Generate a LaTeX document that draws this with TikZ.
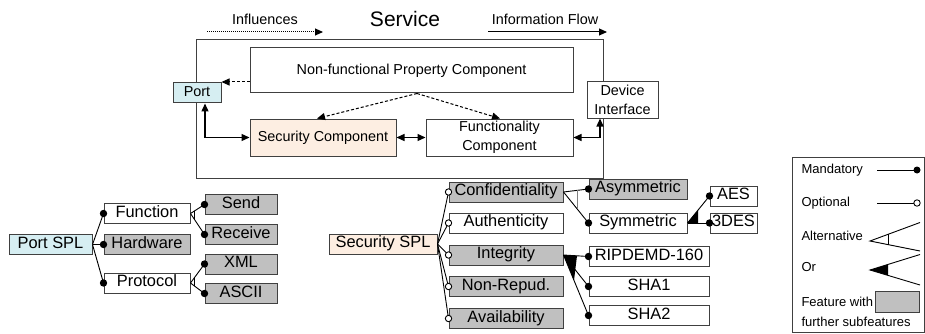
\documentclass[tikz,border=0pt]{standalone}
\usepackage{fontspec}
\setmainfont{Liberation Sans}
\usetikzlibrary{arrows.meta,calc}
\definecolor{featgray}{HTML}{C0C0C0}
\definecolor{portblue}{HTML}{D6EEF2}
\definecolor{secpeach}{HTML}{FDEEE2}
\definecolor{framegray}{HTML}{404040}
\begin{document}
\begin{tikzpicture}[x=1pt,y=-1pt,
  box/.style={draw=framegray, line width=1pt, inner sep=1pt, align=center,
    text height=0.92em, text depth=0.2em},
  topfont/.style={font=\fontsize{14.4}{19}\selectfont},
  treefont/.style={font=\fontsize{16.4}{19}\selectfont},
  legfont/.style={font=\fontsize{13}{16}\selectfont},
  comp/.style={box, topfont},
  feat/.style={box, treefont, minimum height=20pt},
  subfeat/.style={feat, fill=featgray},
  tip/.style={-{Triangle[length=8pt,width=7pt]}},
  bitip/.style={{Triangle[length=8pt,width=7pt]}-{Triangle[length=8pt,width=7pt]}},
  infl/.style={dash pattern=on 3pt off 2pt, line width=1pt},
  conn/.style={line width=0.9pt},
  mand/.style={fill=black},
  opt/.style={draw, fill=white, line width=0.9pt}]
\useasboundingbox (0,0) rectangle (925,334);

% ---------- Service architecture ----------
\node[font=\fontsize{21}{24}\selectfont] (title) at (405,19) {Service};
\node[topfont] (infllbl) at (265,19) {Influences};
\node[topfont] (flowlbl) at (545,19) {Information Flow};
\coordinate (infA) at (207,32);
\coordinate (infB) at (323,32);
\coordinate (flowA) at (488,32);
\coordinate (flowB) at (607,32);
\draw[tip, dash pattern=on 1pt off 1pt, line width=1pt] (infA) -- (infB);
\draw[tip, line width=1pt] (flowA) -- (flowB);

\node[draw=framegray, line width=1pt, minimum width=407pt, minimum height=138pt] (service) at (399.5,109) {};
\node[comp, minimum width=323pt, minimum height=45pt] (nfp) at (411.5,70.5) {Non-functional Property Component};
\node[comp, fill=portblue, minimum width=48pt, minimum height=20pt] (port) at (197,93) {Port};
\node[comp, fill=white, minimum width=71pt, minimum height=36pt, text height=, text depth=] (dev) at (622.5,100) {Device\\Interface};
\node[comp, fill=secpeach, minimum width=146pt, minimum height=37pt] (sec) at (323,137.5) {Security Component};
\node[comp, minimum width=147pt, minimum height=37pt, text height=, text depth=] (fun) at (499.5,137.5) {Functionality\\Component};

\coordinate (nfpleft) at ([yshift=-11.5pt]nfp.west);
\draw[tip, infl] (nfpleft) -- (port.east |- nfpleft);
\draw[tip, infl] ([xshift=5.5pt]nfp.south) -- ([xshift=-6pt]sec.north);
\draw[tip, infl] ([xshift=5.5pt]nfp.south) -- ([xshift=0.5pt]fun.north);
\draw[bitip, line width=1.3pt] ([xshift=8pt]port.south) |- (sec.west);
\draw[bitip, line width=1.3pt] (sec.east) -- (fun.west);
\draw[bitip, line width=1.3pt] (fun.east) -| ([xshift=-22.5pt]dev.south);

% ---------- Port SPL feature tree ----------
\node[feat, fill=portblue, minimum width=83pt] (pspl) at (50.5,244.5) {Port SPL};
\node[feat, minimum width=86pt] (pfun) at (147,213.5) {Function};
\node[subfeat, minimum width=86pt] (phw) at (147,244.5) {Hardware};
\node[feat, minimum width=86pt] (pproto) at (147,283) {Protocol};
\node[subfeat, minimum width=72pt] (psend) at (241,204.5) {Send};
\node[subfeat, minimum width=72pt] (precv) at (241,234.5) {Receive};
\node[subfeat, minimum width=72pt] (pxml) at (241,264) {XML};
\node[subfeat, minimum width=72pt] (pascii) at (241,293.5) {ASCII};

\foreach \c in {pfun,phw,pproto}
  \draw[conn] (pspl.east) -- (\c.west);
\foreach \p/\a/\b in {pfun/psend/precv, pproto/pxml/pascii}{
  \draw[conn] (\p.east) -- (\a.west);
  \draw[conn] (\p.east) -- (\b.west);
  \draw[line width=0.7pt] ($(\p.east)!0.3!(\a.west)$) -- ($(\p.east)!0.3!(\b.west)$);
}
\foreach \c in {pfun,phw,pproto,psend,precv,pxml,pascii}
  \fill[mand] (\c.west) circle (3.7pt);

% ---------- Security SPL feature tree ----------
\node[feat, fill=secpeach, minimum width=108pt] (sspl) at (383,244) {Security SPL};
\node[subfeat, minimum width=114pt] (conf) at (506,192) {Confidentiality};
\node[feat, minimum width=114pt] (auth) at (506,223) {Authenticity};
\node[subfeat, minimum width=114pt] (integ) at (506,255) {Integrity};
\node[subfeat, minimum width=114pt] (nonrep) at (506,286.5) {Non-Repud.};
\node[subfeat, minimum width=114pt] (avail) at (506,318.5) {Availability};
\node[subfeat, minimum width=98pt] (asym) at (638,189) {Asymmetric};
\node[feat, minimum width=98pt] (sym) at (638,223) {Symmetric};
\node[feat, minimum width=47pt] (aes) at (733.5,196) {AES};
\node[feat, minimum width=47pt] (tdes) at (733.5,223) {3DES};
\node[feat, minimum width=120pt] (ripe) at (649,256.5) {RIPDEMD-160};
\node[feat, minimum width=120pt] (sha1) at (649,286.5) {SHA1};
\node[feat, minimum width=120pt] (sha2) at (649,315.5) {SHA2};

\foreach \c in {conf,auth,integ,nonrep,avail}
  \draw[conn] (sspl.east) -- (\c.west);
% alternative: asymmetric / symmetric
\draw[conn] (conf.east) -- (asym.west);
\draw[conn] (conf.east) -- (sym.west);
\draw[line width=0.8pt, gray] ($(conf.east)!0.54!(asym.west)$) -- ($(conf.east)!0.54!(sym.west)$);
% or-group: AES / 3DES
\draw[conn] (sym.east) -- (aes.west);
\draw[conn] (sym.east) -- (tdes.west);
\fill (sym.east) -- ($(sym.east)!0.48!(aes.west)$) -- ($(sym.east)!0.48!(tdes.west)$) -- cycle;
% or-group: hash functions
\foreach \c in {ripe,sha1,sha2}
  \draw[conn] (integ.east) -- (\c.west);
\fill (integ.east) -- ($(integ.east)!0.54!(ripe.west)$) -- ($(integ.east)!0.42!(sha2.west)$) -- cycle;

\foreach \c in {conf,auth,integ,nonrep,avail}
  \draw[opt] (\c.west) circle (3.2pt);
\foreach \c in {asym,sym,aes,tdes,ripe,sha1,sha2}
  \fill[mand] (\c.west) circle (3.7pt);

% ---------- Legend ----------
\node[draw=framegray, line width=1pt, minimum width=132pt, minimum height=175pt] (legend) at (858,244.5) {};
\node[legfont, anchor=mid west] (lmand) at (798,171) {Mandatory};
\node[legfont, anchor=mid west] (lopt) at (798,204) {Optional};
\node[legfont, anchor=mid west] (lalt) at (798,238) {Alternative};
\node[legfont, anchor=mid west] (lor) at (798,269) {Or};
\node[legfont, anchor=mid west] (lfeat) at (798,304) {Feature with};
\node[legfont, anchor=mid west] (lfurther) at (798,324) {further subfeatures};

\coordinate (m1) at (877,170); \coordinate (m2) at (917,170);
\draw[conn] (m1) -- (m2);
\fill[mand] (m2) circle (3.5pt);
\coordinate (o1) at (877,203); \coordinate (o2) at (917,203);
\draw[conn] (o1) -- (o2);
\draw[opt] (o2) circle (3.2pt);

\coordinate (a0) at (870,241); \coordinate (a1) at (920,222.5); \coordinate (a2) at (920,251);
\draw[conn] (a1) -- (a0) -- (a2);
\draw[line width=0.7pt] ($(a0)!0.36!(a1)$) -- ($(a0)!0.36!(a2)$);
\coordinate (r0) at (870,270); \coordinate (r1) at (920,254.5); \coordinate (r2) at (920,285);
\draw[conn] (r1) -- (r0) -- (r2);
\fill (r0) -- ($(r0)!0.36!(r1)$) -- ($(r0)!0.36!(r2)$) -- cycle;

\node[draw=framegray, fill=featgray, line width=0.9pt, minimum width=44pt, minimum height=21pt, inner sep=0pt] (lbox) at (897,301.5) {};
\end{tikzpicture}
\end{document}
